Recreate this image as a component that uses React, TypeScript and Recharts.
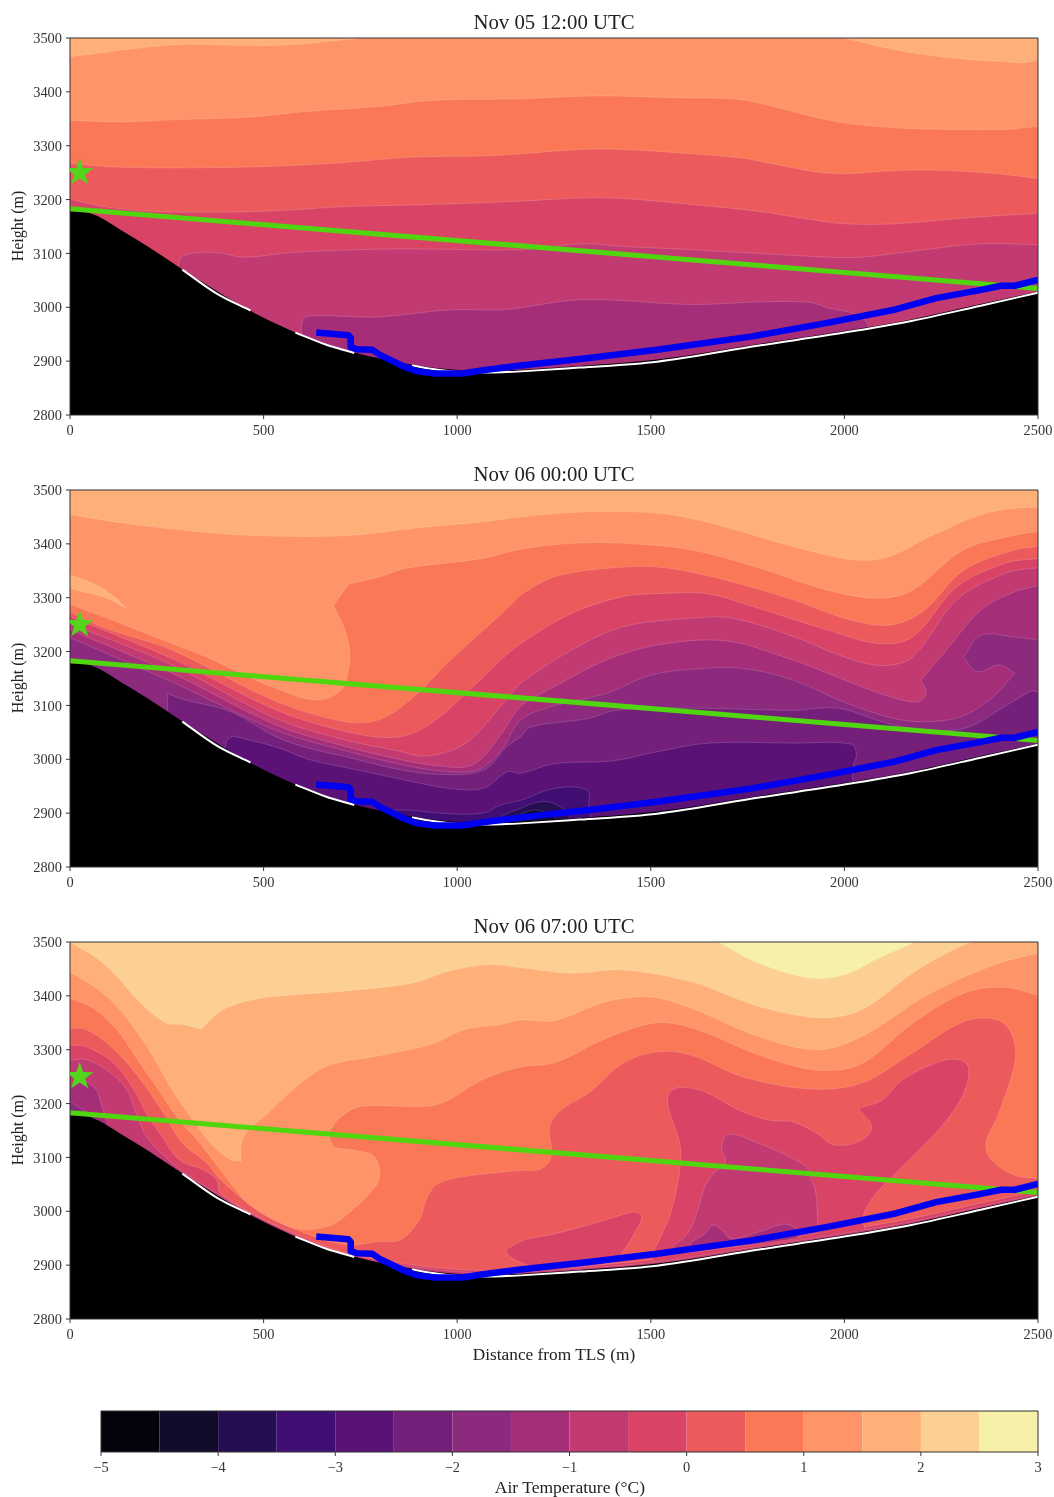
import React from "react";
import { ComposedChart, Area, Line, Scatter, XAxis, YAxis } from "recharts";

type P = [number, number];

const bandColors = ["#03030c","#120c2c","#270d52","#410e73","#5a1277","#74207b","#8c2a7e","#a62d78","#c13b72","#d94466","#ec5a5c","#fa7856","#fe9468","#feb078","#fbd092","#f7f0a8"];
const xTicks = [0, 500, 1000, 1500, 2000, 2500];
const yTicks = [2800, 2900, 3000, 3100, 3200, 3300, 3400, 3500];
const barTicks = [-5, -4, -3, -2, -1, 0, 1, 2, 3];
const barEdges = [-5,-4.5,-4,-3.5,-3,-2.5,-2,-1.5,-1,-0.5,0,0.5,1,1.5,2,2.5,3];

const terrain: P[] = [[0,3178],[40,3177],[75,3168],[130,3144],[201,3113],[281,3075],[353,3042],[469,2992],[576,2955],[650,2934],[734,2916],[800,2905],[888,2893],[951,2887],[1022,2883],[1093,2882],[1164,2884],[1316,2891],[1516,2903],[1780,2932],[2000,2956],[2176,2978],[2352,3006],[2500,3029]];
const whiteA: P[] = [[290,3070],[380,3025],[466,2994]];
const whiteB: P[] = [[582,2953],[660,2931],[734,2915]];
const whiteC: P[] = [[883,2892],[950,2884],[1007,2880],[1093,2879],[1164,2881],[1316,2888],[1516,2899],[1780,2929],[2000,2953],[2176,2975],[2352,3003],[2500,3027]];
const greenLine: P[] = [[0,3183],[2500,3035]];
const blueLine: P[] = [[636,2953],[719,2948],[725,2943],[725,2926],[741,2922],[781,2921],[799,2912],[862,2890],[897,2881],[942,2877],[1013,2877],[1067,2883],[1164,2892],[1340,2906],[1516,2921],[1762,2946],[1956,2971],[2132,2996],[2237,3017],[2343,3031],[2405,3040],[2440,3040],[2500,3051]];
const starPoint: P[] = [[25,3250]];

const full: P[] = [[0,3500],[2500,3500]];

// Panel 1 contour boundaries
const p1a: P[] = [[0,3465],[174,3481],[290,3488],[531,3486],[745,3499],[745,3500],[0,3500],[0,3465]];
const p1b: P[] = [[2000,3500],[2132,3478],[2264,3464],[2396,3457],[2500,3461],[2500,3500],[2000,3500]];
const p1c: P[] = [[0,3347],[147,3344],[263,3348],[460,3353],[620,3364],[800,3373],[933,3384],[1164,3387],[1322,3392],[1428,3392],[1560,3389],[1710,3387],[1798,3376],[1912,3355],[2000,3342],[2132,3333],[2308,3330],[2414,3330],[2500,3336]];
const p1d: P[] = [[0,3267],[130,3260],[353,3259],[531,3262],[710,3269],[888,3279],[1067,3281],[1164,3285],[1322,3293],[1428,3293],[1604,3285],[1736,3277],[1824,3265],[1930,3251],[2000,3248],[2132,3254],[2264,3254],[2396,3248],[2500,3239]];
const p1e: P[] = [[0,3201],[85,3187],[219,3178],[442,3177],[576,3181],[710,3187],[888,3190],[1067,3194],[1164,3197],[1322,3203],[1428,3202],[1604,3191],[1780,3178],[1912,3163],[2000,3155],[2132,3155],[2264,3163],[2396,3170],[2500,3174]];
const p1f: P[] = [[278,3072],[290,3095],[370,3102],[451,3093],[576,3102],[800,3108],[933,3108],[1164,3107],[1322,3118],[1428,3113],[1604,3107],[1780,3100],[1956,3093],[2044,3093],[2176,3104],[2352,3118],[2500,3116]];
const p1g: P[] = [[598,2950],[598,2968],[612,2983],[710,2983],[800,2982],[978,2995],[1112,2995],[1164,2999],[1296,3013],[1410,3013],[1604,3005],[1780,3010],[1912,3009],[1956,2999],[2026,2988],[2060,2970],[2060,2950]];

// Panel 2 contour boundaries
const p2a: P[] = [[0,3454],[174,3435],[353,3421],[487,3415],[710,3415],[888,3429],[1067,3441],[1164,3450],[1296,3458],[1410,3460],[1542,3455],[1674,3435],[1868,3395],[2026,3370],[2114,3376],[2220,3413],[2352,3454],[2440,3466],[2500,3467]];
const p2sliver: P[] = [[0,3342],[67,3324],[120,3299],[145,3281],[145,3281],[85,3302],[0,3320],[0,3342]];
const p2b: P[] = [[0,3288],[85,3265],[263,3215],[353,3190],[442,3160],[531,3132],[638,3110],[701,3129],[719,3166],[723,3197],[710,3240],[681,3286],[681,3286],[719,3325],[719,3325],[800,3339],[870,3355],[1067,3373],[1164,3390],[1296,3401],[1428,3401],[1604,3389],[1780,3355],[1956,3314],[2088,3299],[2176,3314],[2308,3389],[2440,3416],[2500,3423]];
const p2c: P[] = [[0,3274],[85,3245],[263,3203],[531,3108],[710,3070],[800,3074],[888,3116],[978,3181],[1138,3286],[1164,3305],[1252,3339],[1410,3356],[1534,3356],[1692,3333],[1868,3296],[2000,3262],[2114,3249],[2202,3274],[2308,3351],[2440,3389],[2500,3395]];
const p2d: P[] = [[0,3265],[263,3187],[531,3092],[710,3052],[844,3041],[933,3067],[1022,3122],[1112,3184],[1164,3215],[1296,3271],[1428,3302],[1534,3308],[1648,3307],[1780,3280],[1956,3240],[2088,3215],[2176,3227],[2290,3320],[2414,3364],[2500,3373]];
const p2e: P[] = [[0,3252],[263,3175],[531,3076],[710,3036],[844,3016],[920,3006],[1022,3030],[1112,3098],[1164,3141],[1296,3203],[1428,3246],[1604,3262],[1710,3262],[1868,3228],[2000,3190],[2097,3174],[2176,3190],[2290,3296],[2414,3345],[2500,3356]];
const p2f: P[] = [[0,3240],[263,3160],[531,3064],[710,3024],[844,3001],[950,2988],[1040,2990],[1112,3045],[1164,3098],[1252,3135],[1384,3184],[1516,3212],[1692,3220],[1868,3184],[2044,3135],[2132,3113],[2189,3107],[2211,3122],[2198,3147],[2198,3147],[2264,3203],[2352,3277],[2440,3311],[2500,3322]];
const p2g: P[] = [[0,3226],[263,3144],[531,3054],[710,3016],[844,2992],[950,2979],[1050,2980],[1112,3015],[1164,3073],[1252,3100],[1384,3122],[1498,3156],[1604,3167],[1736,3169],[1868,3147],[2000,3106],[2132,3075],[2220,3070],[2308,3081],[2387,3118],[2440,3160],[2440,3160],[2400,3175],[2343,3163],[2308,3190],[2308,3190],[2352,3230],[2440,3227],[2500,3222]];
const p2h: P[] = [[252,3090],[252,3122],[252,3122],[299,3110],[388,3095],[442,3079],[531,3042],[620,3020],[710,3005],[844,2982],[950,2972],[1067,2980],[1130,3025],[1164,3042],[1190,3060],[1340,3076],[1410,3091],[1604,3095],[1868,3091],[1983,3095],[2097,3070],[2176,3057],[2308,3057],[2414,3098],[2484,3127],[2500,3125]];
const p2i: P[] = [[400,3020],[406,3036],[423,3043],[423,3043],[531,3023],[620,2999],[710,2985],[888,2958],[978,2946],[1067,2946],[1130,2977],[1164,2974],[1252,2992],[1401,2997],[1516,3014],[1648,3030],[1868,3030],[2018,3028],[2031,3008],[2022,2986],[2022,2950]];
const p2j: P[] = [[800,2895],[844,2906],[978,2899],[1067,2900],[1112,2915],[1164,2924],[1252,2946],[1335,2943],[1340,2915],[1345,2885]];
const p2k: P[] = [[1090,2880],[1120,2896],[1164,2909],[1199,2919],[1235,2921],[1278,2906],[1295,2885]];
const p2l: P[] = [[1130,2885],[1170,2900],[1205,2906],[1245,2895],[1260,2885]];

// Panel 3 contour boundaries
const p3top: P[] = [[1674,3500],[1780,3460],[1912,3433],[2000,3439],[2088,3470],[2176,3498],[2176,3500],[1674,3500]];
const p3a: P[] = [[0,3500],[67,3471],[120,3437],[174,3393],[246,3350],[290,3347],[339,3339],[339,3339],[397,3375],[487,3395],[710,3409],[888,3424],[978,3446],[1085,3458],[1164,3452],[1296,3442],[1428,3448],[1604,3426],[1780,3380],[1939,3359],[2044,3374],[2176,3442],[2264,3479],[2335,3500],[2500,3500]];
const p3b: P[] = [[0,3444],[67,3415],[120,3381],[174,3332],[219,3282],[263,3226],[317,3170],[370,3121],[415,3096],[442,3093],[442,3093],[442,3121],[455,3146],[513,3183],[576,3226],[665,3270],[799,3289],[933,3310],[1022,3338],[1112,3347],[1164,3355],[1252,3354],[1384,3389],[1498,3398],[1604,3377],[1780,3324],[1930,3300],[2044,3324],[2220,3404],[2396,3460],[2500,3479]];
const p3c: P[] = [[0,3395],[58,3378],[120,3338],[174,3282],[228,3226],[281,3170],[335,3127],[442,3028],[496,2991],[594,2967],[665,2972],[710,2991],[790,3047],[800,3074],[785,3102],[745,3112],[683,3118],[683,3118],[670,3140],[688,3167],[737,3192],[799,3196],[924,3195],[978,3207],[1067,3245],[1164,3268],[1252,3276],[1384,3321],[1516,3350],[1620,3337],[1780,3290],[1930,3262],[2044,3274],[2176,3349],[2308,3405],[2414,3416],[2500,3401]];
const p3d: P[] = [[0,3340],[40,3338],[94,3313],[147,3276],[201,3226],[246,3177],[290,3127],[353,3090],[388,3059],[487,3000],[576,2968],[710,2938],[800,2944],[853,2947],[902,2984],[920,3022],[942,3047],[978,3059],[1067,3069],[1164,3076],[1217,3079],[1243,3102],[1239,3158],[1270,3189],[1340,3220],[1428,3275],[1516,3296],[1604,3290],[1736,3250],[1912,3227],[2044,3238],[2176,3294],[2308,3352],[2396,3355],[2435,3324],[2440,3275],[2396,3177],[2366,3127],[2379,3096],[2440,3067],[2500,3061]];
const p3e: P[] = [[0,3308],[40,3306],[112,3276],[165,3226],[201,3177],[237,3140],[281,3096],[343,3077],[379,3059],[388,3034],[487,2990],[576,2960],[710,2922],[800,2910],[951,2895],[1093,2890],[1316,2898],[1516,2911],[1780,2940],[2000,2965],[2176,2987],[2352,3015],[2500,3038]];
const p3f: P[] = [[1125,2929],[1174,2947],[1252,2958],[1384,2984],[1454,2998],[1476,2991],[1463,2966],[1428,2925],[1400,2905],[1217,2895],[1138,2914],[1125,2929]];
const p3g: P[] = [[1507,2925],[1551,2996],[1577,3089],[1573,3132],[1547,3188],[1547,3219],[1577,3230],[1639,3222],[1727,3188],[1806,3169],[1868,3166],[1930,3144],[1974,3123],[2044,3132],[2070,3157],[2035,3191],[2035,3191],[2097,3206],[2150,3244],[2246,3278],[2299,3281],[2321,3265],[2308,3219],[2264,3169],[2202,3120],[2132,3070],[2075,3027],[2048,2990],[2048,2955],[1507,2905],[1507,2925]];
const p3h: P[] = [[0,3281],[40,3282],[94,3263],[147,3226],[170,3183],[201,3135],[250,3098],[281,3079],[353,3045],[469,2995],[576,2958],[710,2915],[800,2906],[951,2891],[1093,2885],[1316,2894],[1516,2906],[1780,2935],[2000,2959],[2176,2981],[2352,3009],[2500,3032]];
const p3i: P[] = [[1551,2931],[1595,2959],[1621,3002],[1639,3045],[1665,3073],[1692,3089],[1683,3120],[1701,3143],[1780,3126],[1859,3101],[1903,3082],[1908,3070],[1925,3039],[1931,2977],[1931,2960],[1551,2920],[1551,2931]];
const p3j: P[] = [[1604,2943],[1639,2958],[1661,2974],[1683,2965],[1709,2949],[1780,2962],[1846,2976],[1877,2965],[1877,2950],[1604,2930],[1604,2943]];
const p3k: P[] = [[0,3232],[31,3242],[67,3226],[80,3201],[89,3180],[100,3155]];
const p3l: P[] = [[0,3204],[30,3190],[65,3172],[65,3160],[0,3160],[0,3204]];

type Layer = [number, P[]];
const panel1: Layer[] = [[12,full],[13,p1a],[13,p1b],[11,p1c],[10,p1d],[9,p1e],[8,p1f],[7,p1g]];
const panel2: Layer[] = [[13,full],[12,p2a],[13,p2sliver],[11,p2b],[10,p2c],[9,p2d],[8,p2e],[7,p2f],[6,p2g],[5,p2h],[4,p2i],[3,p2j],[2,p2k],[1,p2l]];
const panel3: Layer[] = [[14,full],[15,p3top],[13,p3a],[12,p3b],[11,p3c],[10,p3d],[9,p3e],[9,p3f],[9,p3g],[8,p3h],[8,p3i],[7,p3j],[7,p3k],[6,p3l]];

const rows = (pts: P[]) => pts.map(([x, y]) => ({ x, y }));

// Smooth curve that tolerates boundaries folding back in x (d3 curve protocol).
class Smooth {
  c: any; a: number = NaN; pts: P[] = [];
  constructor(c: any) { this.c = c; }
  areaStart() { this.a = 0; }
  areaEnd() { this.a = NaN; }
  lineStart() { this.pts = []; }
  point(x: number, y: number) { this.pts.push([+x, +y]); }
  lineEnd() {
    const p = this.pts, c = this.c, n = p.length;
    if (n) {
      if (this.a === 1) c.lineTo(p[0][0], p[0][1]); else c.moveTo(p[0][0], p[0][1]);
      const tan = (i: number): P => {
        const a = p[Math.max(i - 1, 0)], b = p[Math.min(i + 1, n - 1)];
        const dx = b[0] - a[0], dy = b[1] - a[1], l = Math.hypot(dx, dy) || 1;
        return [dx / l, dy / l];
      };
      for (let i = 0; i < n - 1; i++) {
        const d = Math.hypot(p[i + 1][0] - p[i][0], p[i + 1][1] - p[i][1]) / 3;
        const t0 = tan(i), t1 = tan(i + 1);
        c.bezierCurveTo(p[i][0] + t0[0] * d, p[i][1] + t0[1] * d, p[i + 1][0] - t1[0] * d, p[i + 1][1] - t1[1] * d, p[i + 1][0], p[i + 1][1]);
      }
    }
    if (this.a === 1) c.closePath();
    if (!isNaN(this.a)) this.a = 1 - this.a;
  }
}
const smooth: any = (c: any) => new Smooth(c);

const serif = "'Liberation Serif', 'Times New Roman', serif";
const tickStyle = { fontSize: 14.4, fill: "#333", fontFamily: serif };
const axisStroke = "#333";

const star = (p: any) => {
  const pts: string[] = [];
  for (let i = 0; i < 10; i++) {
    const r = i % 2 === 0 ? 14.5 : 5.8;
    const a = -Math.PI / 2 + (i * Math.PI) / 5;
    pts.push(`${p.cx + r * Math.cos(a)},${p.cy + r * Math.sin(a)}`);
  }
  return <polygon points={pts.join(" ")} fill="#52d51c" />;
};

function Panel({ top, title, layers, xLabel }: { top: number; title: string; layers: Layer[]; xLabel?: string }) {
  return (
    <div style={{ position: "absolute", left: 0, top }}>
      <ComposedChart width={1054} height={470} margin={{ top: 37, right: 15, bottom: 15, left: 0 }}>
        <XAxis dataKey="x" type="number" domain={[0, 2500]} ticks={xTicks} interval={0} allowDataOverflow height={40} tick={tickStyle} tickSize={4} tickMargin={6} stroke={axisStroke} />
        <YAxis type="number" domain={[2800, 3500]} ticks={yTicks} interval={0} allowDataOverflow width={70} tick={tickStyle} tickSize={4} tickMargin={4} stroke={axisStroke} />
        <XAxis xAxisId="t" orientation="top" type="number" domain={[0, 2500]} height={1} tick={false} tickLine={false} stroke={axisStroke} />
        <YAxis yAxisId="r" orientation="right" type="number" domain={[2800, 3500]} width={1} tick={false} tickLine={false} stroke={axisStroke} />
        {layers.map(([c, pts], i) => (
          <Area key={i} data={rows(pts)} dataKey="y" type={smooth} baseValue={2800} fill={bandColors[c]} fillOpacity={1} stroke={i === 0 ? "none" : "rgba(255,255,255,0.22)"} strokeWidth={0.7} isAnimationActive={false} dot={false} activeDot={false} />
        ))}
        <Area data={rows(terrain)} dataKey="y" type={smooth} baseValue={2800} fill="#000" fillOpacity={1} stroke="none" isAnimationActive={false} dot={false} activeDot={false} />
        {[whiteA, whiteB, whiteC].map((w, i) => (
          <Line key={i} data={rows(w)} dataKey="y" type={smooth} stroke="#fff" strokeWidth={2} dot={false} activeDot={false} isAnimationActive={false} />
        ))}
        <Line data={rows(greenLine)} dataKey="y" type="linear" stroke="#4fd60f" strokeWidth={5} dot={false} activeDot={false} isAnimationActive={false} />
        <Line data={rows(blueLine)} dataKey="y" type="linear" stroke="#0000f0" strokeWidth={6.5} strokeLinejoin="round" dot={false} activeDot={false} isAnimationActive={false} />
        <Scatter data={rows(starPoint)} dataKey="y" shape={star} isAnimationActive={false} />
        <text x={554} y={29} textAnchor="middle" fontFamily={serif} fontSize={20.8} fill="#222">{title}</text>
        <text transform="translate(23,226) rotate(-90)" textAnchor="middle" fontFamily={serif} fontSize={16} fill="#222">Height (m)</text>
        {xLabel ? <text x={554} y={456} textAnchor="middle" fontFamily={serif} fontSize={17.3} fill="#222">{xLabel}</text> : null}
      </ComposedChart>
    </div>
  );
}

function ColorBar() {
  const fmt = (v: number) => (v < 0 ? `\u2212${-v}` : `${v}`);
  return (
    <div style={{ position: "absolute", left: 0, top: 1410 }}>
      <ComposedChart width={1054} height={87} margin={{ top: 0, right: 15, bottom: 0, left: 100 }}>
        <XAxis dataKey="x" type="number" domain={[-5, 3]} ticks={barTicks} interval={0} allowDataOverflow height={45} tick={tickStyle} tickFormatter={fmt} tickSize={4} tickMargin={6} stroke={axisStroke} />
        <YAxis type="number" domain={[0, 1]} width={1} tick={false} tickLine={false} stroke={axisStroke} />
        <XAxis xAxisId="t" orientation="top" type="number" domain={[-5, 3]} height={1} tick={false} tickLine={false} stroke={axisStroke} />
        <YAxis yAxisId="r" orientation="right" type="number" domain={[0, 1]} width={1} tick={false} tickLine={false} stroke={axisStroke} />
        {bandColors.map((c, i) => (
          <Area key={i} data={[{ x: barEdges[i], y: 1 }, { x: barEdges[i + 1], y: 1 }]} dataKey="y" type="linear" baseValue={0} fill={c} fillOpacity={1} stroke="none" isAnimationActive={false} dot={false} activeDot={false} />
        ))}
        <text x={570} y={83} textAnchor="middle" fontFamily={serif} fontSize={17.5} fill="#222">Air Temperature (°C)</text>
      </ComposedChart>
    </div>
  );
}

export default function App() {
  return (
    <div style={{ position: "absolute", left: 0, top: 0, width: 1054, height: 1497, background: "#fff", overflow: "hidden", filter: "blur(0.4px)" }}>
      <Panel top={0} title="Nov 05 12:00 UTC" layers={panel1} />
      <Panel top={452} title="Nov 06 00:00 UTC" layers={panel2} />
      <Panel top={904} title="Nov 06 07:00 UTC" layers={panel3} xLabel="Distance from TLS (m)" />
      <ColorBar />
    </div>
  );
}
